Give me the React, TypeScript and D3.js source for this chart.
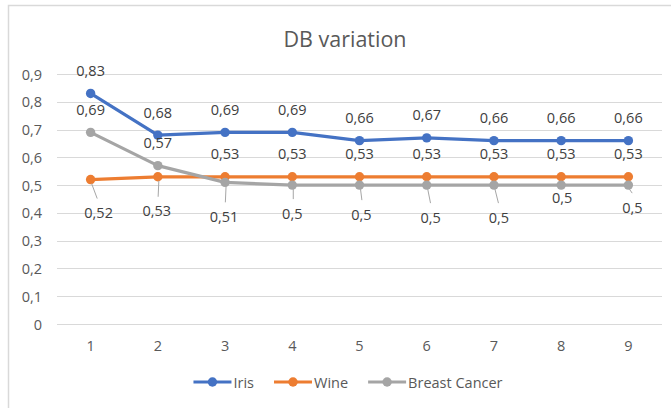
import React, { useRef, useEffect } from "react";
import * as d3 from "d3";

const categories = ["1", "2", "3", "4", "5", "6", "7", "8", "9"];
const irisValues = [0.83, 0.68, 0.69, 0.69, 0.66, 0.67, 0.66, 0.66, 0.66];
const wineValues = [0.52, 0.53, 0.53, 0.53, 0.53, 0.53, 0.53, 0.53, 0.53];
const breastValues = [0.69, 0.57, 0.51, 0.5, 0.5, 0.5, 0.5, 0.5, 0.5];
const yTicks = [0, 0.1, 0.2, 0.3, 0.4, 0.5, 0.6, 0.7, 0.8, 0.9];
const seriesNames = ["Iris", "Wine", "Breast Cancer"];
const colors = ["#4472C4", "#ED7D31", "#A5A5A5"];

// label offsets [dx, dy] of label centre from the point (labels were dragged by hand in the original)
const ABOVE: [number, number] = [0, -23];
const irisLabelPos: [number, number][] = categories.map(() => ABOVE);
const wineLabelPos: [number, number][] = [[8, 33], [-1, 34], ABOVE, ABOVE, ABOVE, ABOVE, ABOVE, ABOVE, ABOVE];
const breastLabelPos: [number, number][] = [ABOVE, ABOVE, [-1, 34], [0, 28], [2, 29], [4, 32], [5, 32], [1, 12], [4, 22]];

const W = 671;
const H = 408;
const FONT = "'Open Sans', 'Noto Sans', sans-serif";

const fmt = (v: number) => (v === 0 ? "0" : String(+v.toFixed(2)).replace(".", ","));

const App = () => {
  const canvas = useRef<SVGSVGElement>(null);

  useEffect(() => {
    const svg = d3.select(canvas.current);
    svg.selectAll("*").remove();

    const x = d3.scaleBand().domain(categories).range([57, 662]).padding(0);
    const y = d3.scaleLinear().domain([0, 0.9]).range([324, 74]);
    const cx = (c: string) => (x(c) as number) + x.bandwidth() / 2;

    // chart border (only top / left visible)
    svg.append("rect")
      .attr("x", 8.5).attr("y", 5.5).attr("width", 760).attr("height", 500)
      .attr("fill", "white").attr("stroke", "#d9d9d9").attr("stroke-width", 1.5);

    svg.append("text")
      .attr("x", 345).attr("y", 38)
      .attr("text-anchor", "middle").attr("dominant-baseline", "central")
      .style("font-family", FONT).style("font-size", "21.5px").attr("fill", "#595959")
      .text("DB variation");

    // gridlines + y labels
    const g = svg.append("g");
    yTicks.forEach(t => {
      g.append("line")
        .attr("x1", 57).attr("x2", 662)
        .attr("y1", Math.round(y(t)) + 0.5).attr("y2", Math.round(y(t)) + 0.5)
        .attr("stroke", "#d9d9d9").attr("stroke-width", 1);
      g.append("text")
        .attr("x", 42).attr("y", y(t))
        .attr("text-anchor", "end").attr("dominant-baseline", "central")
        .style("font-family", FONT).style("font-size", "14.5px").attr("fill", "#595959")
        .text(fmt(t));
    });

    categories.forEach(c => {
      g.append("text")
        .attr("x", cx(c)).attr("y", 345)
        .attr("text-anchor", "middle").attr("dominant-baseline", "central")
        .style("font-family", FONT).style("font-size", "14.5px").attr("fill", "#595959")
        .text(c);
    });

    const allSeries = [irisValues, wineValues, breastValues];
    const allLabels = [irisLabelPos, wineLabelPos, breastLabelPos];

    const line = d3.line<number>()
      .x((d, i) => cx(categories[i]))
      .y(d => y(d));

    allSeries.forEach((vals, si) => {
      g.append("path")
        .datum(vals)
        .attr("d", line)
        .attr("fill", "none")
        .attr("stroke", colors[si])
        .attr("stroke-width", 3.2)
        .attr("stroke-linejoin", "round");
      vals.forEach((v, i) => {
        g.append("circle")
          .attr("cx", cx(categories[i])).attr("cy", y(v)).attr("r", 4.7)
          .attr("fill", colors[si]);
      });
    });

    // data labels + leader lines
    allSeries.forEach((vals, si) => {
      vals.forEach((v, i) => {
        const px = cx(categories[i]);
        const py = y(v);
        const [dx, dy] = allLabels[si][i];
        const lx = px + dx;
        const ly = py + dy;
        if (dy > 0) {
          const y0 = py + 4;
          const y1 = ly - 14;
          if (y1 > y0 + 3) {
            g.append("line")
              .attr("x1", px + 1).attr("y1", y0)
              .attr("x2", px + dx * 0.7 + 1).attr("y2", y1)
              .attr("stroke", "#a6a6a6").attr("stroke-width", 1);
          }
        }
        g.append("text")
          .attr("x", lx).attr("y", ly)
          .attr("text-anchor", "middle").attr("dominant-baseline", "central")
          .style("font-family", FONT).style("font-size", "14.5px").attr("fill", "#404040")
          .text(fmt(v));
      });
    });

    // legend
    const leg = svg.append("g");
    let pos = 0;
    const items: { g: any; w: number }[] = [];
    seriesNames.forEach((name, si) => {
      const it = leg.append("g");
      it.append("line")
        .attr("x1", 0).attr("x2", 38).attr("y1", 0).attr("y2", 0)
        .attr("stroke", colors[si]).attr("stroke-width", 3.2);
      it.append("circle").attr("cx", 19).attr("cy", 0).attr("r", 4.7).attr("fill", colors[si]);
      const t = it.append("text")
        .attr("x", 40).attr("y", 0)
        .attr("dominant-baseline", "central")
        .style("font-family", FONT).style("font-size", "14.5px").attr("fill", "#595959")
        .text(name);
      const tw = (t.node() as SVGTextElement).getComputedTextLength();
      items.push({ g: it, w: 40 + tw });
    });
    const gap = 20;
    const total = d3.sum(items, d => d.w) + gap * (items.length - 1);
    pos = 348 - total / 2;
    items.forEach(d => {
      d.g.attr("transform", `translate(${pos},382)`);
      pos += d.w + gap;
    });
  });

  return (
    <svg ref={canvas} width={W} height={H}
      style={{ position: "absolute", left: 0, top: 0, background: "white" }} />
  );
};

export default App;
